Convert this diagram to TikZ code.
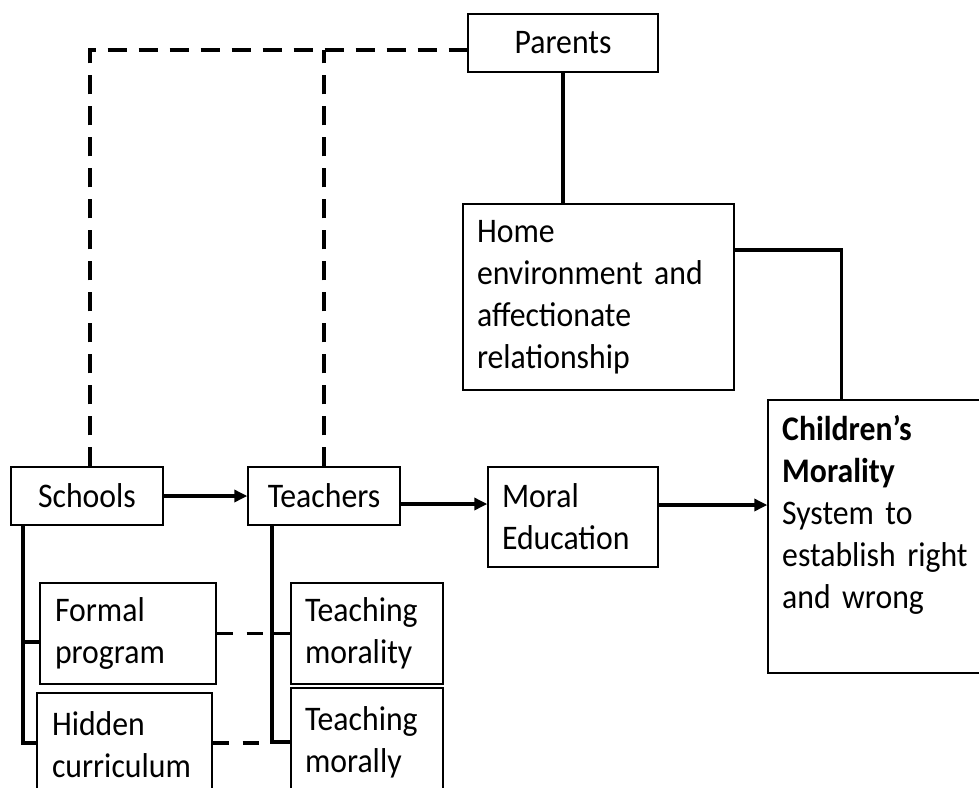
\documentclass[tikz,border=0pt]{standalone}
\usepackage{fontspec}
\setmainfont{Carlito}[FakeStretch=0.92]
\usetikzlibrary{arrows.meta}
\begin{document}
\begin{tikzpicture}[x=1pt,y=-1pt,
  every node/.style={font=\fontsize{34.5}{42}\selectfont},
  box/.style={draw, line width=1.4pt, rectangle, inner sep=0pt},
  lbox/.style={box, align=left, inner xsep=14pt},
  sline/.style={line width=3.3pt},
  dline/.style={line width=3.3pt, dash pattern=on 19pt off 12pt},
  arr/.style={sline, -{Triangle[length=13pt,width=12pt]}}
]
\useasboundingbox (0,0) rectangle (979,787);
\clip (0,0) rectangle (979,787);

% nodes
\node[box, minimum width=190pt, minimum height=58pt] (parents) at (563,43) {Parents};
\node[box, minimum width=152pt, minimum height=58pt] (schools) at (87,496) {Schools};
\node[box, minimum width=152pt, minimum height=58pt] (teachers) at (324,496) {Teachers};
\node[lbox, text width=243pt, minimum height=186pt] (home) at (598.5,297) {Home\\environment and\\affectionate\\relationship};
\node[lbox, text width=142pt, minimum height=100pt] (moral) at (573,517) {Moral\\Education};
\node[box, minimum width=227pt, minimum height=273pt] (children) at (881.5,536.5) {};
\node[anchor=base west, align=left, text width=200pt, inner sep=0pt] (childtext) at (782,440)
  {\textbf{Children’s}\\\textbf{Morality}\\System to\\establish right\\and wrong};
\node[lbox, inner xsep=15pt, text width=146pt, minimum height=101pt] (formal) at (128,633.5) {Formal\\program};
\node[lbox, inner xsep=15pt, text width=145pt, minimum height=103pt] (hidden) at (124.5,744.5) {Hidden\\curriculum};
\node[lbox, text width=124pt, minimum height=101pt] (morality) at (367,633.5) {Teaching\\morality};
\node[lbox, text width=124pt, minimum height=108pt] (morally) at (367,742) {Teaching\\morally};

% helper coordinates
\coordinate (pl) at ([yshift=-7pt]parents.west);
\coordinate (st) at ([xshift=-64pt]schools.south);
\coordinate (tt) at ([xshift=-52pt]teachers.south);

% dashed links to parents
\draw[dline] ([xshift=3pt]schools.north) |- (pl);
\draw[dline] (teachers.north) -- (teachers.north |- pl);

% parents -> home -> children
\draw[sline] (parents.south) -- (parents.south |- home.north);
\draw[sline] ([yshift=47pt]home.east) -| ([xshift=74pt]children.north west);

% main arrows
\draw[arr] (schools.east) -- (teachers.west);
\draw[arr] ([yshift=-8pt]teachers.east) -- ([yshift=-8pt]teachers.east -| moral.west);
\draw[arr] ([yshift=12pt]moral.east) -- ([yshift=12pt]moral.east -| children.west);

% schools tree
\draw[sline] (st) |- ([yshift=1.5pt]hidden.west);
\draw[sline] ([yshift=-8.5pt]formal.west -| st) -- ([yshift=-8.5pt]formal.west);

% teachers tree
\draw[sline] (tt) |- (morally.west);
\draw[sline] (morality.west -| tt) -- (morality.west);

% dashed cross links
\draw[dline, dash pattern=on 16pt off 14pt] (formal.east) -- (formal.east -| tt);
\draw[dline, dash pattern=on 16pt off 14pt] ([yshift=1.5pt]hidden.east) -- ([yshift=1.5pt]hidden.east -| tt);
\end{tikzpicture}
\end{document}
